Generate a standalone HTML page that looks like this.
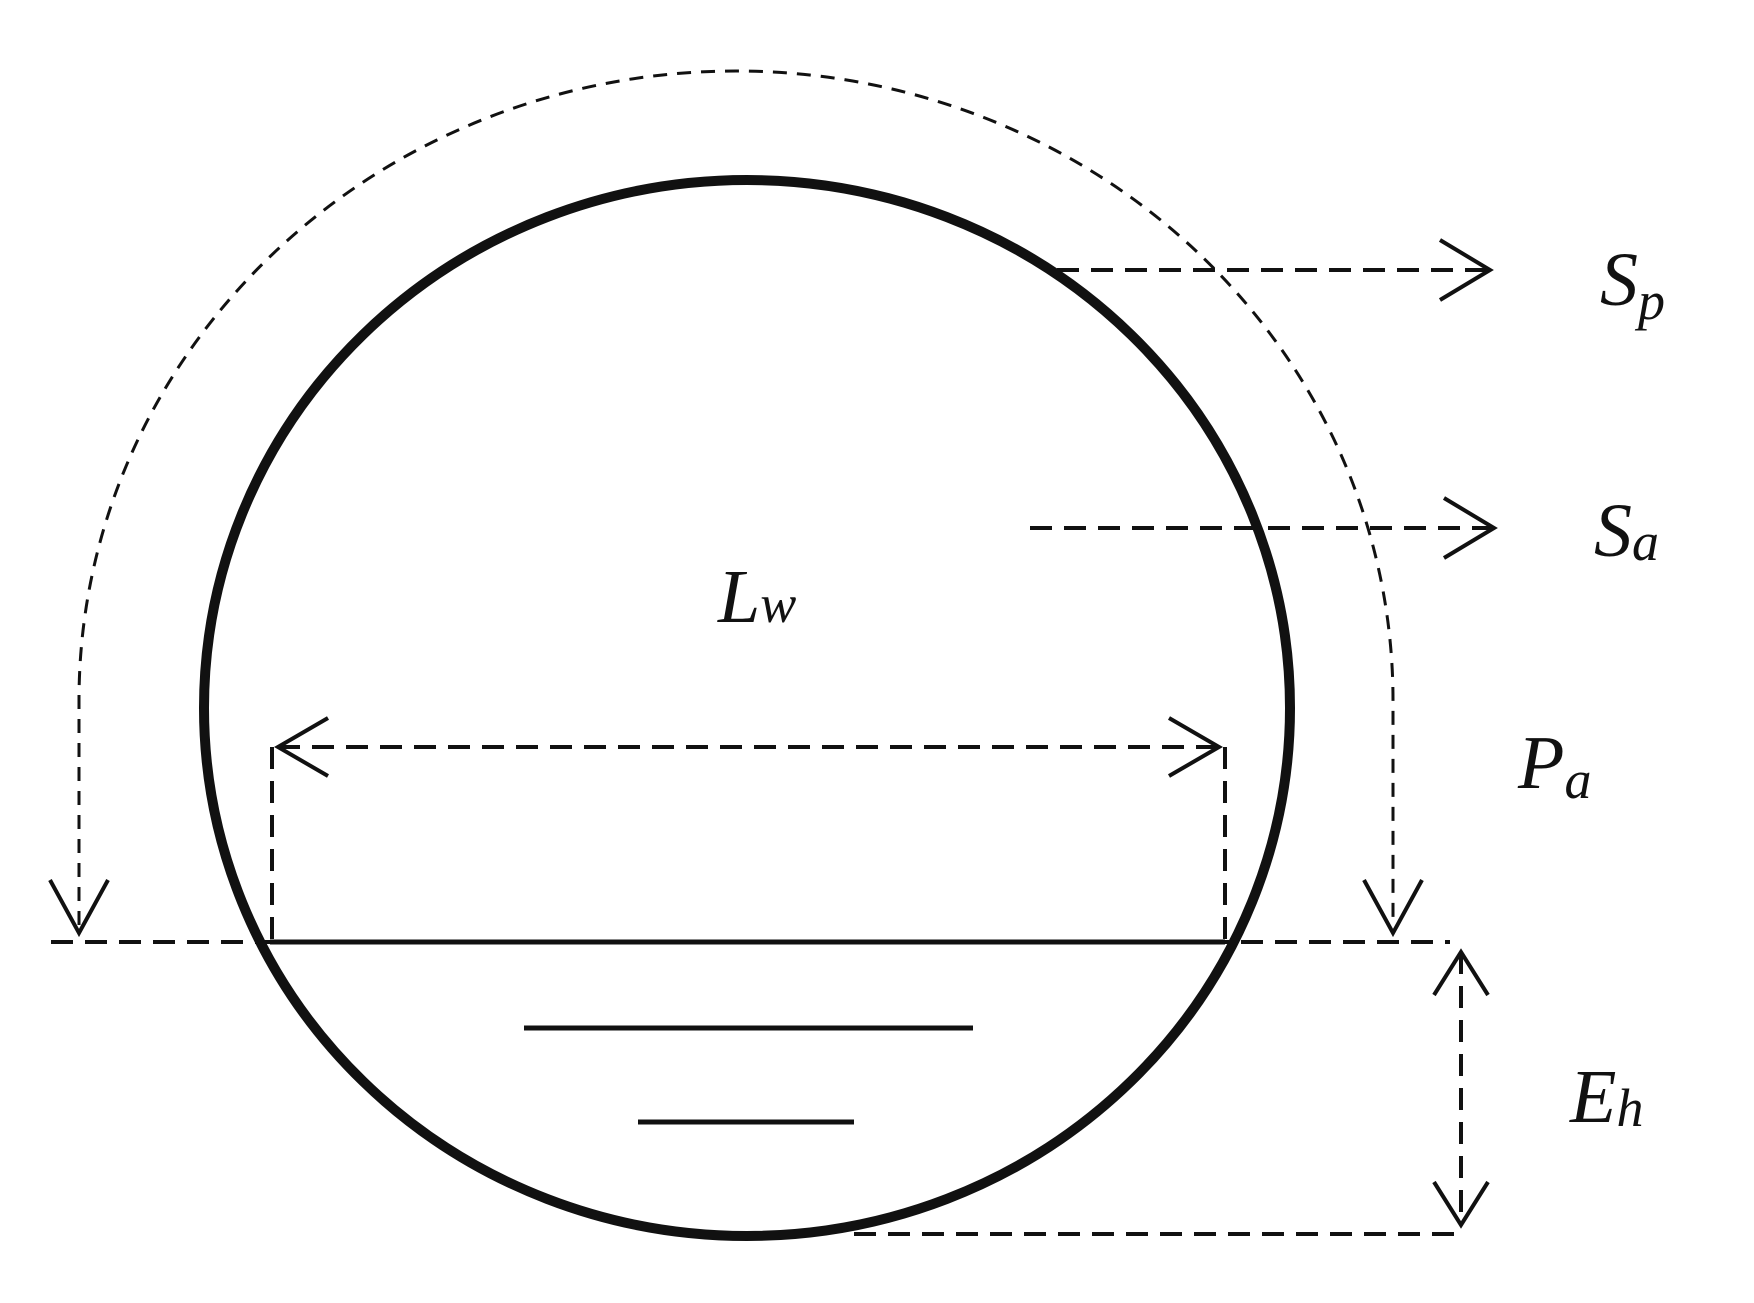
<!DOCTYPE html>
<html><head><meta charset="utf-8"><style>
html,body{margin:0;padding:0;background:#fff;}
svg{display:block;}
text{font-family:"Liberation Serif",serif;font-style:italic;fill:#111;}
</style></head><body>
<svg width="1754" height="1303" viewBox="0 0 1754 1303" xmlns="http://www.w3.org/2000/svg">
<g fill="none" stroke="#111">
<path d="M79 925 L79 700 A 657 629 0 0 1 1393 700 L1393 925" stroke-width="3" stroke-dasharray="14 10"/>
<polyline points="50,880 79,933 108,880" stroke-width="4"/>
<polyline points="1364,880 1393,933 1422,880" stroke-width="4"/>
<ellipse cx="747" cy="708" rx="543" ry="528" stroke-width="10"/>
<line x1="51" y1="942" x2="1450" y2="942" stroke-width="4" stroke-dasharray="22 12"/>
<line x1="270" y1="942" x2="1225" y2="942" stroke-width="5"/>
<line x1="524" y1="1028" x2="973" y2="1028" stroke-width="5"/>
<line x1="638" y1="1122" x2="854" y2="1122" stroke-width="5"/>
<line x1="854" y1="1234" x2="1461" y2="1234" stroke-width="4" stroke-dasharray="22 12"/>
<line x1="1461" y1="952" x2="1461" y2="1225" stroke-width="4" stroke-dasharray="22 12"/>
<polyline points="1434,995 1461,952 1488,995" stroke-width="4"/>
<polyline points="1434,1182 1461,1225 1488,1182" stroke-width="4"/>
<line x1="272" y1="747" x2="272" y2="942" stroke-width="4" stroke-dasharray="22 12"/>
<line x1="1225" y1="747" x2="1225" y2="942" stroke-width="4" stroke-dasharray="22 12"/>
<line x1="278" y1="747" x2="1219" y2="747" stroke-width="4" stroke-dasharray="22 12"/>
<polyline points="328,718 278,747 328,776" stroke-width="4"/>
<polyline points="1169,718 1219,747 1169,776" stroke-width="4"/>
<line x1="1057" y1="270" x2="1488" y2="270" stroke-width="4" stroke-dasharray="22 12"/>
<polyline points="1440,240 1490,270 1440,300" stroke-width="4"/>
<line x1="1030" y1="528" x2="1492" y2="528" stroke-width="4" stroke-dasharray="22 12"/>
<polyline points="1444,498 1494,528 1444,558" stroke-width="4"/>
</g>
<text x="1600" y="305" font-size="76">S<tspan font-size="54" dy="14">p</tspan></text>
<text x="1594" y="556" font-size="76">S<tspan font-size="54" dy="4">a</tspan></text>
<text x="718" y="622" font-size="76">L<tspan font-size="54" dy="0">w</tspan></text>
<text x="1518" y="788" font-size="76">P<tspan font-size="54" dy="10">a</tspan></text>
<text x="1570" y="1122" font-size="76">E<tspan font-size="54" dy="4">h</tspan></text>
</svg>
</body></html>
